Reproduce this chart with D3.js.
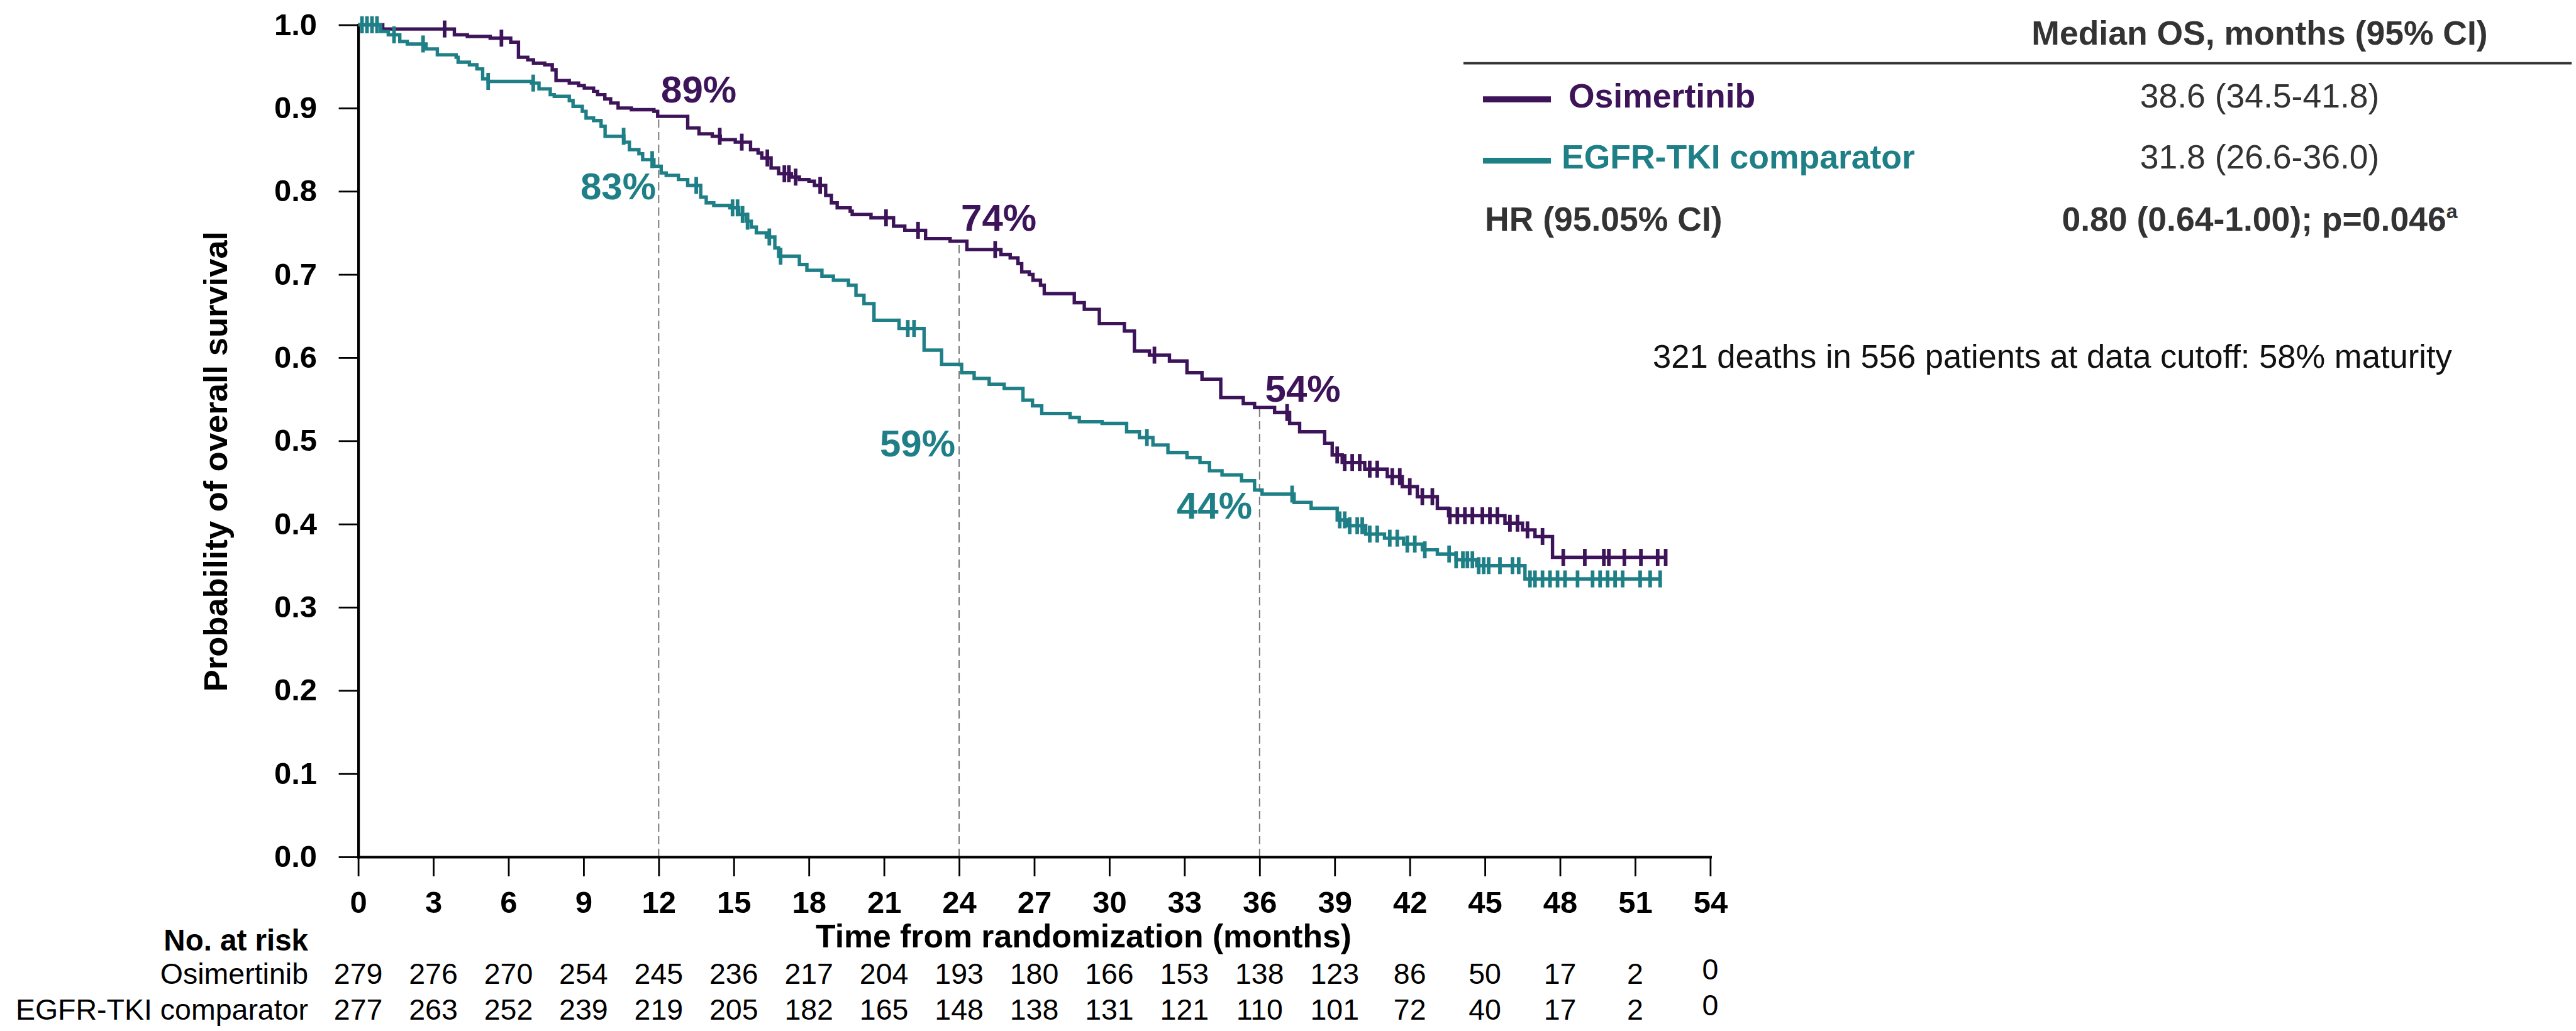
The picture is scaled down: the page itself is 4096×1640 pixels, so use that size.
<!DOCTYPE html>
<html>
<head>
<meta charset="utf-8">
<title>Overall survival – Osimertinib vs EGFR-TKI comparator</title>
<script src="https://cdn.jsdelivr.net/npm/d3@7"></script>
<style>
  html, body { margin: 0; padding: 0; background: #fff; }
  svg { display: block; font-family: "Liberation Sans", Arial, Helvetica, sans-serif; }
</style>
</head>
<body>
<svg id="chart" width="4096" height="1640"></svg>
<script>
// ---------------------------------------------------------------
// Data
// ---------------------------------------------------------------
const monthTicks = [0, 3, 6, 9, 12, 15, 18, 21, 24, 27, 30, 33, 36, 39, 42, 45, 48, 51, 54];
const survivalTicks = [0, 0.1, 0.2, 0.3, 0.4, 0.5, 0.6, 0.7, 0.8, 0.9, 1.0];

const armNames = ["Osimertinib", "EGFR-TKI comparator"];
const armColors = ["#3d1459", "#1f7f87"];

// Kaplan–Meier steps: [month, survival probability after the event]
const osiSteps = [
  [0, 1.000], [0.98, 0.995], [3.84, 0.988], [4.36, 0.986], [5.27, 0.984], [6.09, 0.979],
  [6.40, 0.961], [6.77, 0.958], [7.00, 0.954], [7.45, 0.952], [7.75, 0.946], [7.90, 0.933],
  [8.43, 0.930], [8.80, 0.927], [9.03, 0.924], [9.40, 0.920], [9.56, 0.916], [9.85, 0.911],
  [10.08, 0.906], [10.38, 0.900], [10.91, 0.898], [11.81, 0.896], [11.96, 0.890], [13.16, 0.876],
  [13.61, 0.869], [14.14, 0.866], [14.46, 0.862], [15.06, 0.859], [15.67, 0.850], [15.97, 0.846],
  [16.12, 0.840], [16.49, 0.828], [16.79, 0.821], [17.30, 0.817], [17.62, 0.814], [18.00, 0.812],
  [18.22, 0.807], [18.67, 0.795], [18.90, 0.786], [19.13, 0.780], [19.65, 0.776], [19.73, 0.772],
  [20.48, 0.768], [21.38, 0.758], [21.83, 0.753], [22.66, 0.743], [23.64, 0.740], [24.31, 0.730],
  [25.67, 0.724], [26.04, 0.720], [26.35, 0.713], [26.50, 0.703], [26.80, 0.700], [26.95, 0.693],
  [27.25, 0.687], [27.40, 0.677], [28.60, 0.666], [29.00, 0.658], [29.60, 0.641], [30.60, 0.632],
  [31.00, 0.608], [31.60, 0.603], [32.40, 0.596], [33.10, 0.582], [33.70, 0.574], [34.45, 0.552],
  [35.35, 0.545], [35.80, 0.540], [36.60, 0.534], [37.20, 0.521], [37.60, 0.511], [38.60, 0.497],
  [38.90, 0.483], [39.30, 0.474], [40.20, 0.466], [41.10, 0.457], [41.70, 0.445], [42.30, 0.433],
  [43.10, 0.419], [43.55, 0.410], [45.80, 0.401], [46.50, 0.393], [47.00, 0.385], [47.70, 0.360],
  [52.22, 0.360]
];
const osiCensored = [
  3.45, 5.72, 14.44, 15.32, 16.34, 17.02, 17.20, 17.47, 18.45, 21.08, 22.36, 25.44, 31.80,
  37.10, 39.10, 39.40, 39.70, 40.00, 40.40, 40.70, 41.30, 41.60, 42.00, 42.50, 42.90,
  43.60, 43.90, 44.20, 44.50, 44.90, 45.20, 45.50, 46.00, 46.30, 46.70, 47.30,
  48.13, 48.99, 49.75, 49.95, 50.57, 51.23, 51.90, 52.22
];

const cmpSteps = [
  [0, 1.000], [0.90, 0.992], [1.20, 0.988], [1.66, 0.980], [1.96, 0.977], [2.71, 0.971],
  [3.16, 0.964], [3.91, 0.961], [3.99, 0.955], [4.44, 0.952], [4.74, 0.947], [4.97, 0.935],
  [5.19, 0.932], [6.92, 0.930], [7.22, 0.923], [7.67, 0.916], [7.83, 0.914], [8.43, 0.909],
  [8.58, 0.902], [8.95, 0.896], [9.10, 0.888], [9.40, 0.885], [9.70, 0.878], [9.86, 0.866],
  [10.61, 0.859], [10.83, 0.850], [11.21, 0.845], [11.36, 0.838], [11.81, 0.830], [12.10, 0.822],
  [12.30, 0.819], [12.79, 0.814], [13.16, 0.807], [13.68, 0.793], [13.90, 0.786], [14.20, 0.783],
  [14.84, 0.780], [15.20, 0.772], [15.50, 0.764], [15.70, 0.757], [15.90, 0.750], [16.30, 0.745],
  [16.64, 0.732], [16.79, 0.722], [17.62, 0.712], [17.92, 0.705], [18.52, 0.698], [18.98, 0.693],
  [19.58, 0.687], [19.88, 0.675], [20.20, 0.665], [20.60, 0.645], [21.60, 0.635], [22.60, 0.609],
  [23.30, 0.592], [24.10, 0.582], [24.60, 0.575], [25.20, 0.568], [25.80, 0.563], [26.55, 0.549],
  [26.93, 0.542], [27.30, 0.533], [28.43, 0.528], [28.80, 0.523], [29.71, 0.521], [30.69, 0.511],
  [31.20, 0.504], [31.74, 0.495], [32.34, 0.486], [33.10, 0.480], [33.62, 0.474], [34.00, 0.464],
  [34.50, 0.459], [35.28, 0.452], [35.80, 0.441], [36.10, 0.436], [37.38, 0.426], [38.06, 0.419],
  [39.10, 0.405], [39.50, 0.398], [40.24, 0.388], [40.99, 0.383], [41.75, 0.376], [42.50, 0.369],
  [43.10, 0.364], [43.85, 0.357], [44.67, 0.350], [46.60, 0.334], [52.00, 0.334]
];
const cmpCensored = [
  0.15, 0.35, 0.55, 0.75, 1.43, 2.59, 5.19, 6.99, 10.60, 11.74, 13.50, 14.95, 15.15, 15.35,
  15.55, 16.42, 16.87, 21.95, 22.20, 31.50, 37.30, 39.20, 39.40, 39.60, 39.90, 40.10, 40.40,
  40.70, 41.20, 41.50, 41.90, 42.20, 42.60, 43.57, 43.85, 44.12, 44.30, 44.50, 44.75, 44.95,
  45.15, 45.60, 46.10, 46.35, 46.80, 47.00, 47.30, 47.60, 47.90, 48.20, 48.70, 49.30, 49.60,
  49.90, 50.20, 50.50, 51.20, 51.60, 52.00
];

// Landmark survival estimates at 12, 24 and 36 months
const landmarkMonths = [12, 24, 36];
const osiLandmarks = [0.89, 0.74, 0.54];
const cmpLandmarks = [0.83, 0.59, 0.44];

// Numbers at risk at each 3-month tick
const osiAtRisk = [279, 276, 270, 254, 245, 236, 217, 204, 193, 180, 166, 153, 138, 123, 86, 50, 17, 2, 0];
const cmpAtRisk = [277, 263, 252, 239, 219, 205, 182, 165, 148, 138, 131, 121, 110, 101, 72, 40, 17, 2, 0];

// Summary table
const summaryHeader = "Median OS, months (95% CI)";
const medianOS = ["38.6 (34.5-41.8)", "31.8 (26.6-36.0)"];
const hrLabel = "HR (95.05% CI)";
const hrValue = "0.80 (0.64-1.00); p=0.046";
const hrFootnote = "a";
const maturityNote = "321 deaths in 556 patients at data cutoff: 58% maturity";

// ---------------------------------------------------------------
// Scales
// ---------------------------------------------------------------
const svg = d3.select("#chart");
const x = d3.scaleLinear().domain([0, 54]).range([569.6, 2719.4]);
const y = d3.scaleLinear().domain([0, 1]).range([1363, 39.5]);

const survivalAt = (steps, t) => {
  let s = steps[0][1];
  for (const [ts, v] of steps) { if (ts <= t) s = v; else break; }
  return s;
};

// ---------------------------------------------------------------
// Landmark dashed guides (from the axis up to the upper curve)
// ---------------------------------------------------------------
svg.append("g")
  .selectAll("line")
  .data(landmarkMonths)
  .join("line")
  .attr("x1", d => x(d)).attr("x2", d => x(d))
  .attr("y1", y(0))
  .attr("y2", (d, i) => y(osiLandmarks[i]))
  .attr("stroke", "#7a7a7a")
  .attr("stroke-width", 2)
  .attr("stroke-dasharray", "13 7");

// ---------------------------------------------------------------
// Axes
// ---------------------------------------------------------------
const gx = svg.append("g")
  .attr("transform", `translate(0,${y(0)})`)
  .call(d3.axisBottom(x).tickValues(monthTicks).tickSize(31).tickSizeOuter(0).tickPadding(23))
  .attr("font-family", null).attr("font-size", 49);
gx.select(".domain").attr("stroke", "#000").attr("stroke-width", 4.2).attr("stroke-linecap", "square");
gx.selectAll(".tick line").attr("stroke", "#000").attr("stroke-width", 2.8);
gx.selectAll(".tick text").attr("font-weight", "bold").attr("fill", "#000");

const gy = svg.append("g")
  .attr("transform", `translate(${x(0)},0)`)
  .call(d3.axisLeft(y).tickValues(survivalTicks).tickFormat(d3.format(".1f"))
        .tickSize(31).tickSizeOuter(0).tickPadding(34.6))
  .attr("font-family", null).attr("font-size", 49);
gy.select(".domain").attr("stroke", "#000").attr("stroke-width", 4.2).attr("stroke-linecap", "square");
gy.selectAll(".tick line").attr("stroke", "#000").attr("stroke-width", 2.8);
gy.selectAll(".tick text").attr("font-weight", "bold").attr("fill", "#000");

// Axis titles
svg.append("text")
  .attr("transform", "translate(361,734) rotate(-90)")
  .attr("text-anchor", "middle")
  .attr("font-size", 52.5).attr("font-weight", "bold")
  .text("Probability of overall survival");

svg.append("text")
  .attr("x", 1723).attr("y", 1507)
  .attr("text-anchor", "middle")
  .attr("font-size", 51.7).attr("font-weight", "bold")
  .text("Time from randomization (months)");

// ---------------------------------------------------------------
// Survival curves with censoring marks
// ---------------------------------------------------------------
const stepLine = d3.line()
  .x(d => x(d[0]))
  .y(d => y(d[1]))
  .curve(d3.curveStepAfter);

const arms = [
  { steps: osiSteps, censored: osiCensored, color: armColors[0] },
  { steps: cmpSteps, censored: cmpCensored, color: armColors[1] }
];

arms.forEach(arm => {
  const g = svg.append("g");
  g.append("path")
    .attr("d", stepLine(arm.steps))
    .attr("fill", "none")
    .attr("stroke", arm.color)
    .attr("stroke-width", 5.4)
    .attr("stroke-linejoin", "miter");
  g.selectAll("line")
    .data(arm.censored)
    .join("line")
    .attr("x1", d => x(d)).attr("x2", d => x(d))
    .attr("y1", d => y(survivalAt(arm.steps, d)) - 13.5)
    .attr("y2", d => y(survivalAt(arm.steps, d)) + 13.5)
    .attr("stroke", arm.color)
    .attr("stroke-width", 5.8);
});

// ---------------------------------------------------------------
// Landmark percentage labels
// ---------------------------------------------------------------
const pct = d3.format(".0%");
const landmarkLabels = [];
landmarkMonths.forEach((m, i) => {
  landmarkLabels.push({ m, v: osiLandmarks[i], color: armColors[0], anchor: "start", dx: [3.7, 3, 8.8][i], dy: [-22.5, -17, -9.3][i] });
  landmarkLabels.push({ m, v: cmpLandmarks[i], color: armColors[1], anchor: "end", dx: [-4.3, -6, -11.8][i], dy: [52.3, 143.6, 44.3][i] });
});
svg.append("g")
  .selectAll("text")
  .data(landmarkLabels)
  .join("text")
  .attr("x", d => x(d.m) + d.dx)
  .attr("y", d => y(d.v) + d.dy)
  .attr("text-anchor", d => d.anchor)
  .attr("fill", d => d.color)
  .attr("font-size", 60).attr("font-weight", "bold")
  .text(d => pct(d.v));

// ---------------------------------------------------------------
// Number at risk table
// ---------------------------------------------------------------
svg.append("text")
  .attr("x", 490).attr("y", 1511.5)
  .attr("text-anchor", "end")
  .attr("font-size", 47.5).attr("font-weight", "bold")
  .text("No. at risk");

const riskRows = [
  { name: armNames[0], values: osiAtRisk, baseline: 1565 },
  { name: armNames[1], values: cmpAtRisk, baseline: 1622 }
];
riskRows.forEach(row => {
  svg.append("text")
    .attr("x", 490).attr("y", row.baseline)
    .attr("text-anchor", "end")
    .attr("font-size", 46.5)
    .text(row.name);
  svg.append("g")
    .selectAll("text")
    .data(row.values)
    .join("text")
    .attr("x", (d, i) => x(monthTicks[i]))
    .attr("y", (d, i) => row.baseline - (i === monthTicks.length - 1 ? 7.5 : 0))
    .attr("text-anchor", "middle")
    .attr("font-size", 46.5)
    .text(d => d);
});

// ---------------------------------------------------------------
// Summary table (legend, medians, hazard ratio)
// ---------------------------------------------------------------
const legend = svg.append("g").attr("fill", "#333");
const valueCenter = 3593;

legend.append("text")
  .attr("x", valueCenter).attr("y", 70.5)
  .attr("text-anchor", "middle")
  .attr("font-size", 53.5).attr("font-weight", "bold")
  .text(summaryHeader);

legend.append("line")
  .attr("x1", 2327).attr("x2", 4089)
  .attr("y1", 100.6).attr("y2", 100.6)
  .attr("stroke", "#333").attr("stroke-width", 3.8);

const legendRows = [
  { name: armNames[0], color: armColors[0], lineY: 158, baseline: 171, textX: 2494, value: medianOS[0] },
  { name: armNames[1], color: armColors[1], lineY: 255.6, baseline: 268, textX: 2483, value: medianOS[1] }
];
legendRows.forEach(r => {
  legend.append("line")
    .attr("x1", 2358).attr("x2", 2466)
    .attr("y1", r.lineY).attr("y2", r.lineY)
    .attr("stroke", r.color).attr("stroke-width", 9.4);
  legend.append("text")
    .attr("x", r.textX).attr("y", r.baseline)
    .attr("fill", r.color)
    .attr("font-size", 53.5).attr("font-weight", "bold")
    .text(r.name);
  legend.append("text")
    .attr("x", valueCenter).attr("y", r.baseline)
    .attr("text-anchor", "middle")
    .attr("font-size", 53.5)
    .text(r.value);
});

legend.append("text")
  .attr("x", 2361).attr("y", 366.6)
  .attr("font-size", 53.5).attr("font-weight", "bold")
  .text(hrLabel);

const hrText = legend.append("text")
  .attr("x", valueCenter).attr("y", 366.6)
  .attr("text-anchor", "middle")
  .attr("font-size", 53.5).attr("font-weight", "bold");
hrText.append("tspan").text(hrValue);
hrText.append("tspan").attr("font-size", 32).attr("dy", -20).text(hrFootnote);

svg.append("text")
  .attr("x", 2628).attr("y", 585)
  .attr("font-size", 52.6)
  .attr("fill", "#111")
  .text(maturityNote);
</script>
</body>
</html>
